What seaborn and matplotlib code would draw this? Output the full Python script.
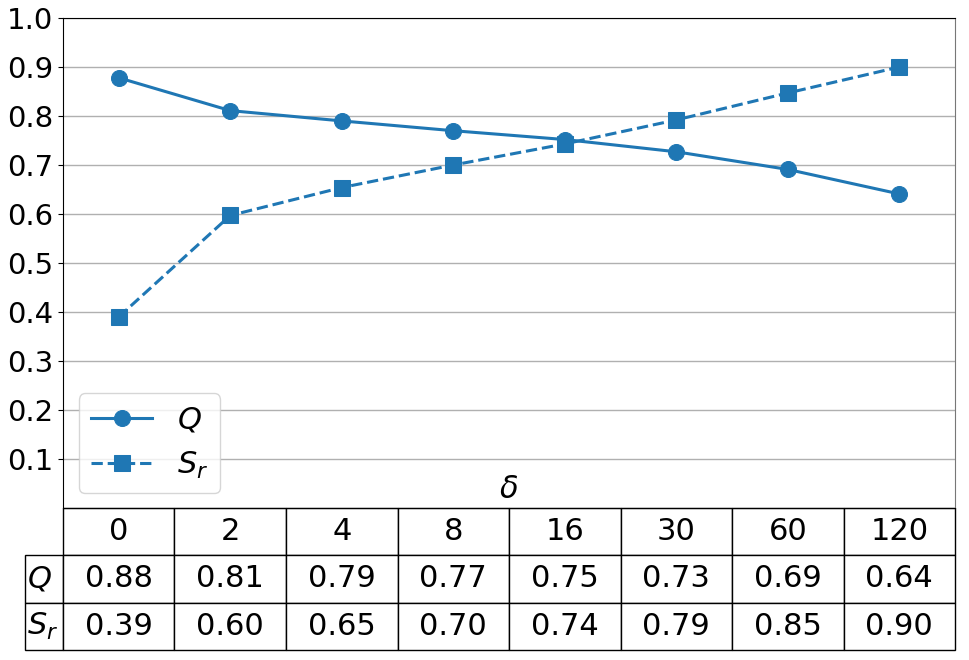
import matplotlib
matplotlib.use("Agg")
import matplotlib.pyplot as plt
import seaborn as sns
import pandas as pd

# valores
delta = ["0", "2", "4", "8", "16", "30", "60", "120"]
q_vals = [0.878, 0.811, 0.790, 0.770, 0.752, 0.727, 0.691, 0.641]
sr_vals = [0.390, 0.597, 0.654, 0.700, 0.743, 0.792, 0.847, 0.900]
row_labels = ["$Q$", "$S_r$"]

df = pd.DataFrame({"pos": range(len(delta)), "Q": q_vals, "Sr": sr_vals})

fig = plt.figure(figsize=(9.69, 6.6), dpi=100)
ax = fig.add_axes([0.065, 0.2303, 0.9206, 0.7424])

cor = "#1f77b4"
sns.lineplot(data=df, x="pos", y="Q", ax=ax, color=cor, marker="o", markersize=11.5,
             linewidth=2.2, linestyle="-", label="$Q$", markeredgecolor=cor)
sns.lineplot(data=df, x="pos", y="Sr", ax=ax, color=cor, marker="s", markersize=11,
             linewidth=2.2, linestyle="--", label="$S_r$", markeredgecolor=cor)

ax.set_xlim(-0.5, len(delta) - 0.5)
ax.set_ylim(0, 1.0)
ax.set_yticks([i / 10 for i in range(1, 11)])
ax.set_yticklabels([f"{i / 10:.1f}" for i in range(1, 11)])
ax.tick_params(axis="y", labelsize=21)
ax.set_xticks([])
ax.set_xlabel("")
ax.set_ylabel("")
ax.grid(axis="y", color="#b0b0b0", linewidth=1)
ax.set_axisbelow(True)
ax.spines["right"].set_color("#777777")

ax.text(0.5, 0.008, r"$\delta$", transform=ax.transAxes, ha="center", va="bottom", fontsize=22)

leg = ax.legend(loc="lower left", fontsize=22, bbox_to_anchor=(0.018, 0.03), borderaxespad=0)

# tabela abaixo do eixo (primeira coluna = rotulos das linhas)
cell_text = [[row_labels[0]] + [f"{v:.2f}" for v in q_vals],
             [row_labels[1]] + [f"{v:.2f}" for v in sr_vals]]
lw = 38 / 892
H = 142 / 490
tab = ax.table(cellText=cell_text, colLabels=[""] + delta,
               colWidths=[lw] + [1 / len(delta)] * len(delta),
               cellLoc="center", bbox=[-lw, -H, 1 + lw, H])
tab.auto_set_font_size(False)
tab.set_fontsize(22)
for (r, c), cell in tab.get_celld().items():
    cell.set_linewidth(1)
    cell.set_edgecolor("black")
    if c == 0:
        cell.PAD = 0.04
        cell.get_text().set_horizontalalignment("left")
        cell._loc = "left"
        if r == 0:
            cell.visible_edges = ""

fig.savefig("out.png", dpi=100)
